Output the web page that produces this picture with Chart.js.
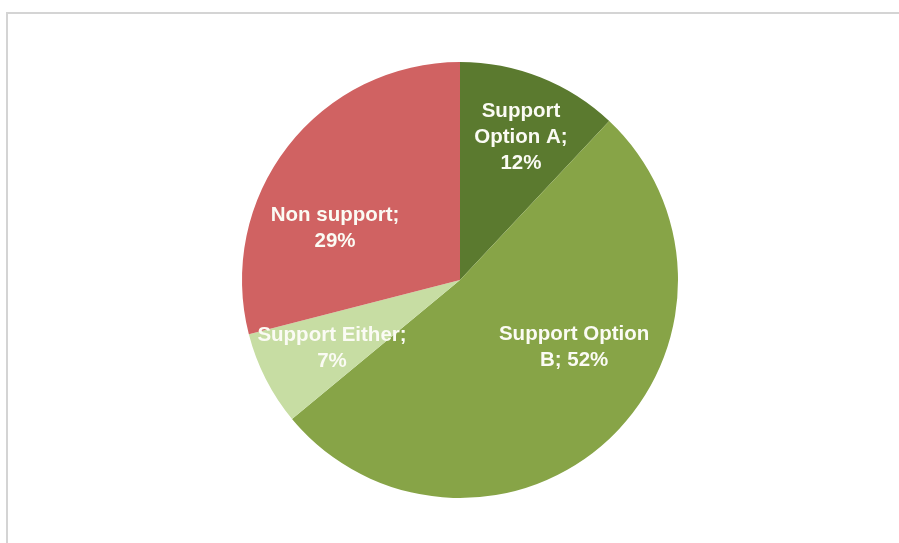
<!DOCTYPE html>
<html lang="en">
  <head>
    <meta charset="UTF-8" />
    <title>Support pie</title>
    <script src="https://cdn.jsdelivr.net/npm/chart.js"></script>
    <style>
      html, body { margin: 0; padding: 0; background: #fff; overflow: hidden; }
      .wrap { position: relative; width: 899px; height: 543px; }
      .frame {
        position: absolute; left: 6px; top: 12px; right: -4px; bottom: -4px;
        border-top: 2px solid #d4d4d4; border-left: 2px solid #d4d4d4;
      }
      canvas { position: absolute; left: 0; top: 0; }
    </style>
  </head>
  <body>
    <div class="wrap">
      <div class="frame"></div>
      <canvas id="pieChart" width="899" height="543"></canvas>
    </div>

    <script>
      // data, clockwise from 12 o'clock
      const categories = ["Support Option A", "Support Option B", "Support Either", "Non support"];
      const shares = [12, 52, 7, 29];
      const labelLines = [
        ["Support", "Option A;", "12%"],
        ["Support Option", "B; 52%"],
        ["Support Either;", "7%"],
        ["Non support;", "29%"],
      ];
      const colors = ["#5b7a2f", "#87a447", "#c7dda3", "#d06262"];

      // where each label sits: angle shift (deg) from the slice middle, and radius fraction
      const labelSpots = [
        { shift: 1.5, frac: 0.713 },
        { shift: -16.2, frac: 0.608 },
        { shift: -1, frac: 0.665 },
        { shift: -15.2, frac: 0.621 },
      ];

      const sliceLabels = {
        id: "sliceLabels",
        afterDatasetsDraw(chart) {
          const ctx = chart.ctx;
          const meta = chart.getDatasetMeta(0);
          ctx.save();
          ctx.fillStyle = "#fbfbf4";
          ctx.font = "bold 20.5px 'Liberation Sans', Arial, sans-serif";
          ctx.textAlign = "center";
          ctx.textBaseline = "middle";
          meta.data.forEach((arc, i) => {
            const p = arc.getProps(["x", "y", "startAngle", "endAngle", "outerRadius"], true);
            const mid = (p.startAngle + p.endAngle) / 2 + (labelSpots[i].shift * Math.PI) / 180;
            const r = p.outerRadius * labelSpots[i].frac;
            const x = p.x + Math.cos(mid) * r;
            const y = p.y + Math.sin(mid) * r;
            const lines = labelLines[i];
            const lh = 26;
            lines.forEach((t, k) => {
              ctx.fillText(t, x, y + (k - (lines.length - 1) / 2) * lh);
            });
          });
          ctx.restore();
        },
      };

      new Chart(document.getElementById("pieChart").getContext("2d"), {
        type: "pie",
        data: {
          labels: categories,
          datasets: [
            {
              data: shares,
              backgroundColor: colors,
              borderWidth: 0,
            },
          ],
        },
        options: {
          responsive: false,
          animation: false,
          layout: { padding: { top: 62, bottom: 45, left: 21, right: 0 } },
          plugins: {
            legend: { display: false },
            tooltip: { enabled: false },
          },
        },
        plugins: [sliceLabels],
      });
    </script>
  </body>
</html>
